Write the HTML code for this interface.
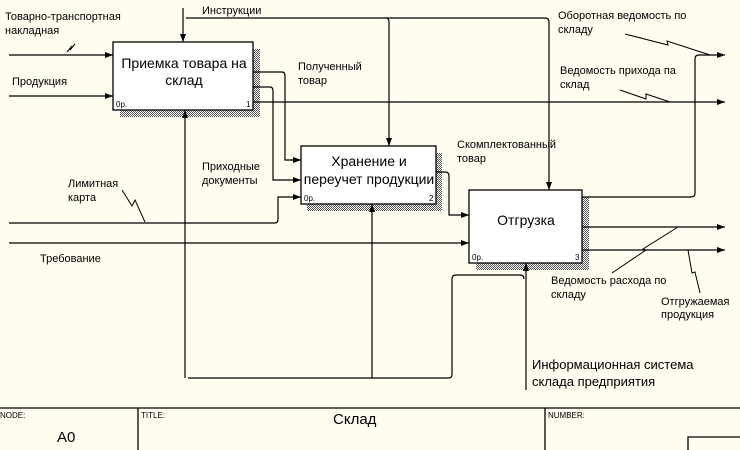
<!DOCTYPE html>
<html><head><meta charset="utf-8"><style>
html,body{margin:0;padding:0;background:#fffcf0;}
svg{display:block;font-family:"Liberation Sans",sans-serif;}
</style></head><body>
<svg width="740" height="450" viewBox="0 0 740 450" xmlns="http://www.w3.org/2000/svg">
<defs>
<pattern id="h" width="2" height="2" patternUnits="userSpaceOnUse"><rect width="2" height="2" fill="#fff"/><rect width="1" height="1" fill="#555"/><rect x="1" y="1" width="1" height="1" fill="#555"/></pattern>
<marker id="a" markerWidth="8" markerHeight="6" refX="8" refY="3" orient="auto" markerUnits="userSpaceOnUse"><path d="M0,0 L8,3 L0,6z" fill="#000"/></marker>
</defs>
<rect width="740" height="450" fill="#fffcf0"/>
<g fill="url(#h)">
<rect x="253" y="49" width="7" height="68"/><rect x="120" y="110" width="140" height="7"/>
<rect x="436" y="153" width="6" height="58"/><rect x="307" y="204" width="135" height="7"/>
<rect x="582" y="197" width="7" height="73"/><rect x="476" y="263" width="113" height="7"/>
</g>
<g fill="#fff" stroke="#000" stroke-width="1.3">
<rect x="113" y="42" width="140" height="68"/>
<rect x="301" y="146" width="135" height="58"/>
<rect x="469" y="190" width="113" height="73"/>
</g>
<g fill="none" stroke="#000" stroke-width="1.2">
<path d="M9 55 H113" marker-end="url(#a)"/>
<path d="M9 96 H113" marker-end="url(#a)"/>
<path d="M183 8 V42" marker-end="url(#a)"/>
<path d="M186 18 H545 Q549 18 549 22 V190" marker-end="url(#a)"/>
<path d="M386 18 Q389 18 389 22 V146" marker-end="url(#a)"/>
<path d="M253 72 H282 Q285 72 285 76 V160 H301" marker-end="url(#a)"/>
<path d="M253 87 H270 Q273 87 273 91 V180 H301" marker-end="url(#a)"/>
<path d="M253 102 H725" marker-end="url(#a)"/>
<path d="M9 223 H275 Q278 223 278 219 V197 H301" marker-end="url(#a)"/>
<path d="M9 243 H469" marker-end="url(#a)"/>
<path d="M185 378 V110" marker-end="url(#a)"/>
<path d="M188 378 H449 Q452 378 452 374 V279 Q452 275 456 275 H520 Q524 275 524 279"/>
<path d="M372 378 V204" marker-end="url(#a)"/>
<path d="M526 390 V263" marker-end="url(#a)"/>
<path d="M436 172 H445 Q449 172 449 176 V215 H469" marker-end="url(#a)"/>
<path d="M582 197 H691 Q695 197 695 193 V59 Q695 55 699 55 H725" marker-end="url(#a)"/>
<path d="M582 227 H725" marker-end="url(#a)"/>
<path d="M582 250 H725" marker-end="url(#a)"/>
<path d="M67 52 L72 46 L70 50 L75 44" stroke-width="1"/>
<path d="M122 190 L132 206 L135 200 L145 222" stroke-width="1"/>
<path d="M625 34 L668 45 L667 41 L710 55" stroke-width="1"/>
<path d="M620 90 L646 99 L646 94 L670 102" stroke-width="1"/>
<path d="M612 273 L646 250 L643 249 L678 227" stroke-width="1"/>
<path d="M688 250 L692 273 L695 272 L700 293" stroke-width="1"/>
<path d="M0 408 H740 M138 408 V450 M545 408 V450 M688 450 V437 H740" stroke-width="1.3"/>
</g>
<g font-size="11" fill="#000">
<text x="5" y="20">Товарно-транспортная</text><text x="5" y="34">накладная</text>
<text x="12" y="85">Продукция</text>
<text x="202" y="14">Инструкции</text>
<text x="298" y="70">Полученный</text><text x="298" y="84">товар</text>
<text x="202" y="170">Приходные</text><text x="202" y="184">документы</text>
<text x="68" y="187">Лимитная</text><text x="68" y="201">карта</text>
<text x="40" y="262">Требование</text>
<text x="457" y="148">Скомплектованный</text><text x="457" y="162">товар</text>
<text x="558" y="19">Оборотная ведомость по</text><text x="558" y="33">складу</text>
<text x="560" y="74">Ведомость прихода па</text><text x="560" y="88">склад</text>
<text x="551" y="284">Ведомость расхода по</text><text x="551" y="298">складу</text>
<text x="661" y="305">Отгружаемая</text><text x="661" y="318">продукция</text>
</g>
<g font-size="14" fill="#000" text-anchor="middle">
<text x="184" y="68">Приемка товара на</text><text x="184" y="85">склад</text>
<text x="369" y="166">Хранение и</text><text x="369" y="184">переучет продукции</text>
<text x="526" y="225">Отгрузка</text>
</g>
<g font-size="13" fill="#000">
<text x="532" y="369">Информационная система</text><text x="532" y="386">склада предприятия</text>
</g>
<g font-size="8" fill="#000">
<text x="116" y="107">0р.</text><text x="246" y="107">1</text>
<text x="304" y="201">0р.</text><text x="429" y="201">2</text>
<text x="472" y="260">0р.</text><text x="575" y="260">3</text>
<text x="0" y="418">NODE:</text><text x="141" y="418">TITLE:</text><text x="548" y="418">NUMBER:</text>
</g>
<text x="57" y="442" font-size="15">A0</text>
<text x="333" y="424" font-size="15">Склад</text>
</svg>
</body></html>
